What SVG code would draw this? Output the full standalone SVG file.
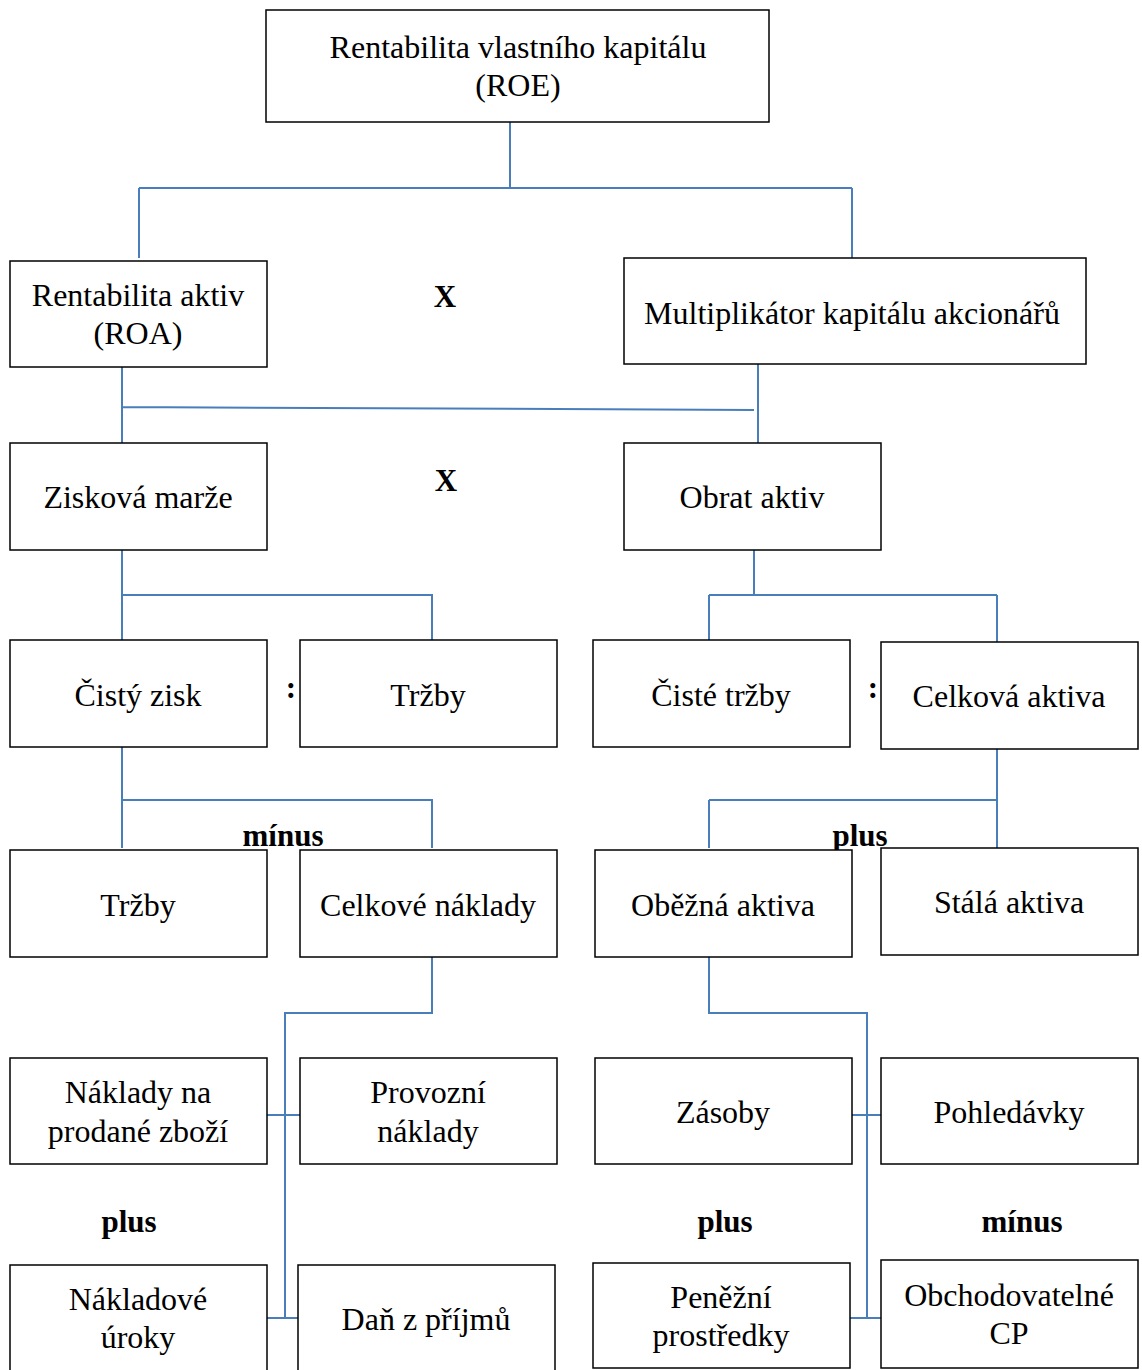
<svg xmlns="http://www.w3.org/2000/svg" width="1142" height="1370" viewBox="0 0 1142 1370">
<style>
.box{fill:#fff;stroke:#000;stroke-width:1.5}
.t{font-family:"Liberation Serif","Times New Roman",serif;font-size:32px;text-anchor:middle;fill:#000}
.b{font-family:"Liberation Serif","Times New Roman",serif;font-size:31px;font-weight:bold;text-anchor:middle;fill:#000}
.c{fill:none;stroke:#4a7ebb;stroke-width:2}
</style>
<rect width="1142" height="1370" fill="#fff"/>
<g id="connectors">
<path class="c" d="M510,122V188M139,188H852M139,188V258M852,188V258"/>
<path class="c" d="M122,367V443M122,407L754,410M758,364V443"/>
<path class="c" d="M122,550V642M122,595H432V640M754,550V595M709,595H997M709,595V640M997,595V642"/>
<path class="c" d="M122,747V848M122,800H432V848M997,749V848M709,800H997M709,800V848"/>
<path class="c" d="M432,957V1013H285V1318M267,1115H300M267,1318H298"/>
<path class="c" d="M709,957V1013H867V1318M852,1115H881M850,1318H881"/>
</g>
<g id="roe"><rect class="box" x="266" y="10" width="503" height="112"/><text class="t" x="518" y="58">Rentabilita vlastního kapitálu</text><text class="t" x="518" y="96">(ROE)</text></g>
<g id="roa"><rect class="box" x="10" y="261" width="257" height="106"/><text class="t" x="138" y="306">Rentabilita aktiv</text><text class="t" x="138" y="344">(ROA)</text></g>
<g id="mult"><rect class="box" x="624" y="258" width="462" height="106"/><text class="t" x="852" y="324">Multiplikátor kapitálu akcionářů</text></g>
<g id="x1"><text class="b" x="445" y="307">X</text></g>
<g id="zm"><rect class="box" x="10" y="443" width="257" height="107"/><text class="t" x="138" y="508">Zisková marže</text></g>
<g id="oa"><rect class="box" x="624" y="443" width="257" height="107"/><text class="t" x="752" y="508">Obrat aktiv</text></g>
<g id="x2"><text class="b" x="446" y="491">X</text></g>
<g id="cz"><rect class="box" x="10" y="640" width="257" height="107"/><text class="t" x="138" y="706">Čistý zisk</text></g>
<g id="trz1"><rect class="box" x="300" y="640" width="257" height="107"/><text class="t" x="428" y="706">Tržby</text></g>
<g id="d1"><text class="b" x="291" y="698">:</text></g>
<g id="ct"><rect class="box" x="593" y="640" width="257" height="107"/><text class="t" x="721" y="706">Čisté tržby</text></g>
<g id="d2"><text class="b" x="873" y="698">:</text></g>
<g id="ca"><rect class="box" x="881" y="642" width="257" height="107"/><text class="t" x="1009" y="707">Celková aktiva</text></g>
<g id="minus1"><text class="b" x="283" y="846">mínus</text></g>
<g id="plus1"><text class="b" x="860" y="846">plus</text></g>
<g id="trz2"><rect class="box" x="10" y="850" width="257" height="107"/><text class="t" x="138" y="916">Tržby</text></g>
<g id="cn"><rect class="box" x="300" y="850" width="257" height="107"/><text class="t" x="428" y="916">Celkové náklady</text></g>
<g id="oba"><rect class="box" x="595" y="850" width="257" height="107"/><text class="t" x="723" y="916">Oběžná aktiva</text></g>
<g id="sa"><rect class="box" x="881" y="848" width="257" height="107"/><text class="t" x="1009" y="913">Stálá aktiva</text></g>
<g id="npz"><rect class="box" x="10" y="1058" width="257" height="106"/><text class="t" x="138" y="1103">Náklady na</text><text class="t" x="138" y="1142">prodané zboží</text></g>
<g id="pn"><rect class="box" x="300" y="1058" width="257" height="106"/><text class="t" x="428" y="1103">Provozní</text><text class="t" x="428" y="1142">náklady</text></g>
<g id="zas"><rect class="box" x="595" y="1058" width="257" height="106"/><text class="t" x="723" y="1123">Zásoby</text></g>
<g id="poh"><rect class="box" x="881" y="1058" width="257" height="106"/><text class="t" x="1009" y="1123">Pohledávky</text></g>
<g id="plus2"><text class="b" x="129" y="1232">plus</text></g>
<g id="plus3"><text class="b" x="725" y="1232">plus</text></g>
<g id="minus2"><text class="b" x="1022" y="1232">mínus</text></g>
<g id="nu"><rect class="box" x="10" y="1265" width="257" height="110"/><text class="t" x="138" y="1310">Nákladové</text><text class="t" x="138" y="1348">úroky</text></g>
<g id="dp"><rect class="box" x="298" y="1265" width="257" height="110"/><text class="t" x="426" y="1330">Daň z příjmů</text></g>
<g id="pp"><rect class="box" x="593" y="1263" width="257" height="105"/><text class="t" x="721" y="1308">Peněžní</text><text class="t" x="721" y="1346">prostředky</text></g>
<g id="ocp"><rect class="box" x="881" y="1260" width="257" height="108"/><text class="t" x="1009" y="1306">Obchodovatelné</text><text class="t" x="1009" y="1344">CP</text></g>
</svg>
